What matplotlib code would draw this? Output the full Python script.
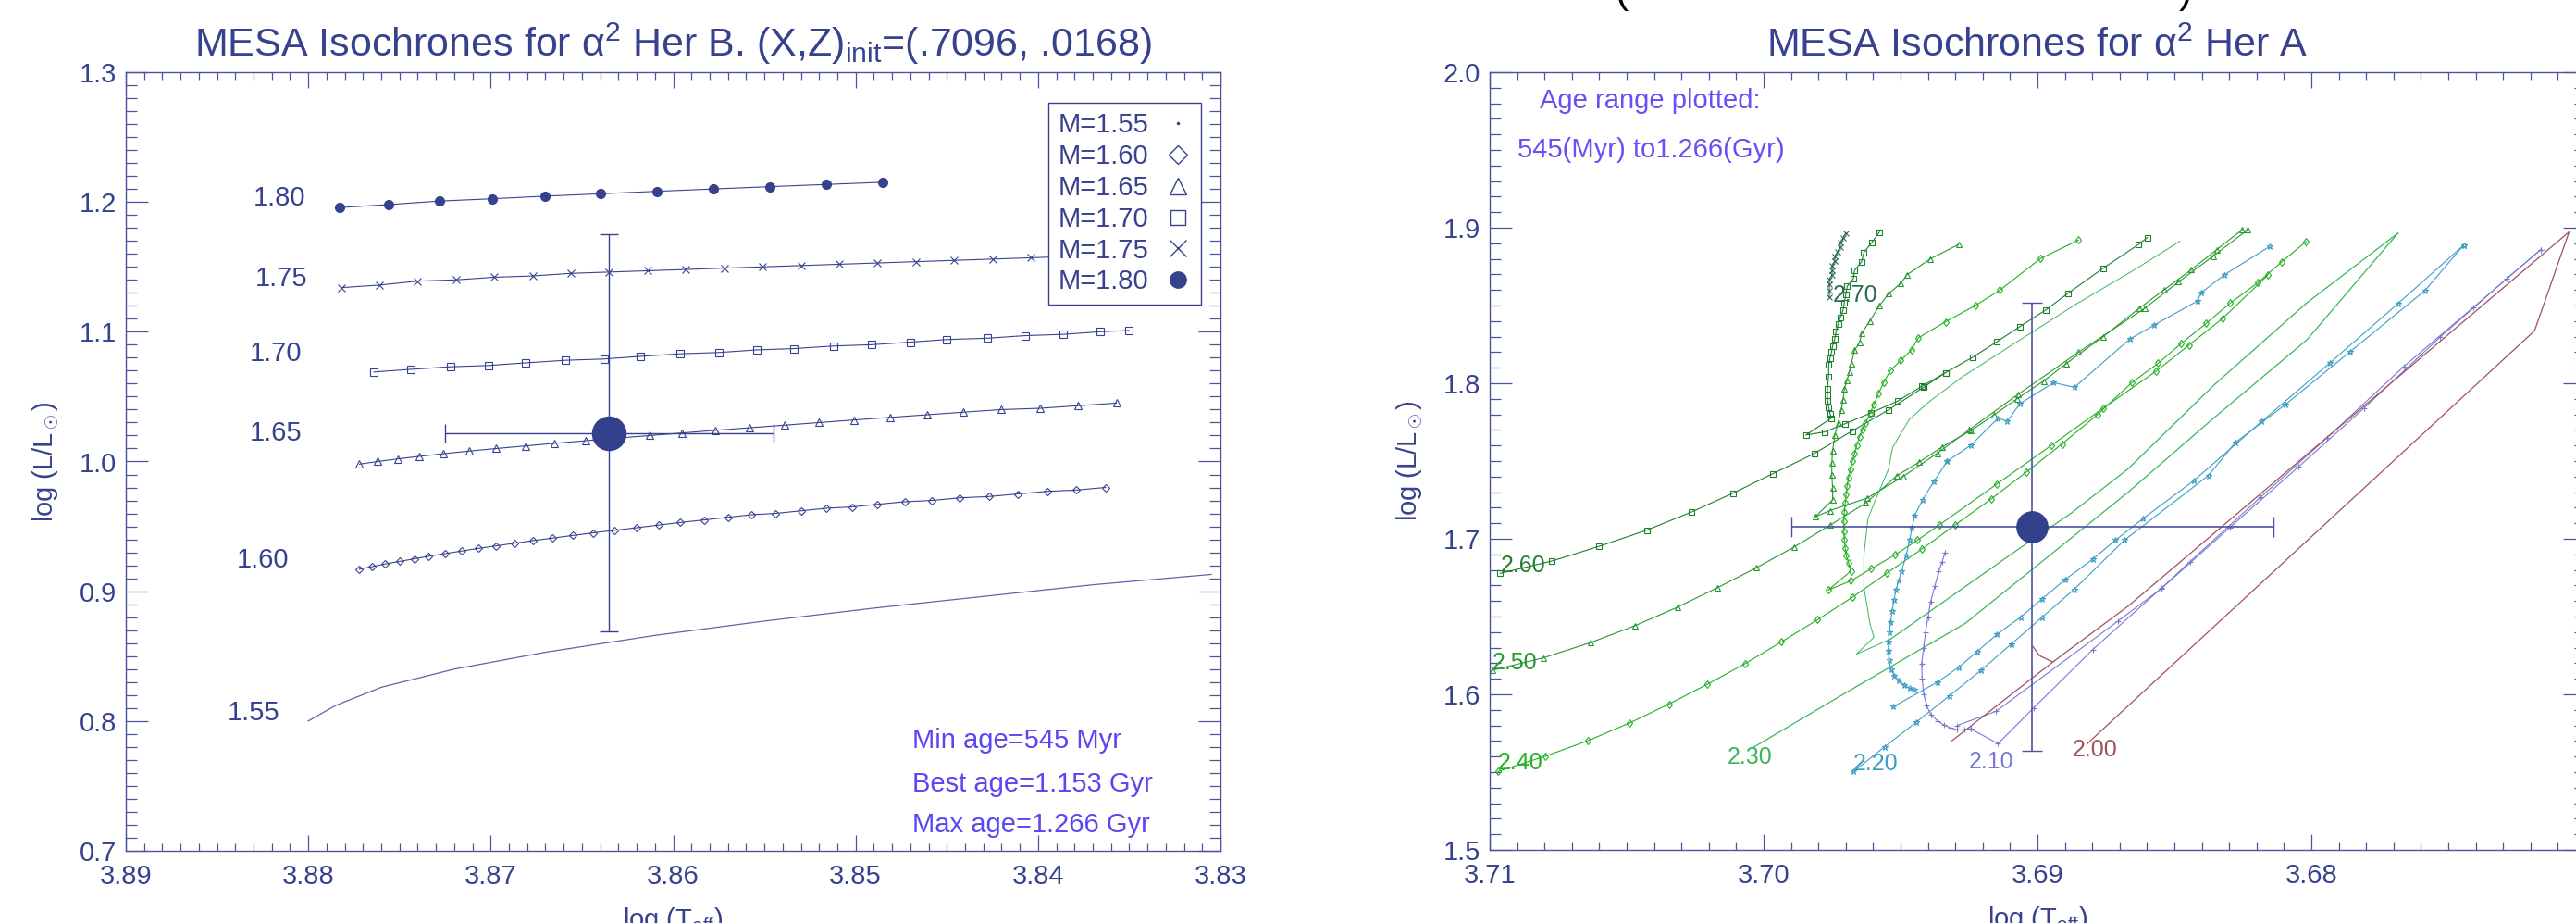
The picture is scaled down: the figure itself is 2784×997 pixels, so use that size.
import matplotlib
matplotlib.use('Agg')
import matplotlib.pyplot as plt
from matplotlib.lines import Line2D
from matplotlib.ticker import MultipleLocator, FuncFormatter

plt.rcParams.update({'font.family': ['Liberation Sans', 'DejaVu Sans'],
                     'mathtext.fontset': 'custom',
                     'mathtext.rm': 'Liberation Sans',
                     'mathtext.it': 'Liberation Sans:italic',
                     'mathtext.bf': 'Liberation Sans:bold'})

NAVY = '#37428E'
SPINE = '#4A549E'
AGE_COL = '#5A46F2'

# ---------------- left panel: alpha2 Her B ----------------
b155_x = [3.8800, 3.8785, 3.8760, 3.8720, 3.8670, 3.8610, 3.8550, 3.8490, 3.8430, 3.8370, 3.8305]
b155_y = [0.800, 0.812, 0.826, 0.840, 0.853, 0.866, 0.877, 0.887, 0.896, 0.905, 0.913]

b160_x = [3.8772, 3.8765, 3.8758, 3.8750, 3.8742, 3.8734, 3.8725, 3.8716, 3.8707, 3.8697,
          3.8687, 3.8677, 3.8666, 3.8655, 3.8644, 3.8632, 3.8620, 3.8608, 3.8596, 3.8583,
          3.8570, 3.8557, 3.8544, 3.8530, 3.8516, 3.8502, 3.8488, 3.8473, 3.8458, 3.8443,
          3.8427, 3.8411, 3.8395, 3.8379, 3.8363]
b160_y = [0.917, 0.919, 0.921, 0.923, 0.925, 0.927, 0.929, 0.931, 0.933, 0.935,
          0.937, 0.939, 0.941, 0.943, 0.945, 0.947, 0.949, 0.951, 0.953, 0.955,
          0.957, 0.959, 0.960, 0.962, 0.964, 0.965, 0.967, 0.969, 0.970, 0.972,
          0.973, 0.975, 0.977, 0.978, 0.980]

b165_x = [3.8772, 3.8762, 3.8751, 3.8739, 3.8726, 3.8712, 3.8697, 3.8681, 3.8665, 3.8648,
          3.8631, 3.8613, 3.8595, 3.8577, 3.8558, 3.8539, 3.8520, 3.8501, 3.8481, 3.8461,
          3.8441, 3.8420, 3.8399, 3.8378, 3.8357]
b165_y = [0.998, 1.000, 1.002, 1.004, 1.006, 1.008, 1.010, 1.012, 1.014, 1.016,
          1.018, 1.020, 1.022, 1.024, 1.026, 1.028, 1.030, 1.032, 1.034, 1.036,
          1.038, 1.040, 1.041, 1.043, 1.045]

b170_x = [3.8764, 3.8744, 3.8722, 3.8701, 3.8681, 3.8659, 3.8638, 3.8618, 3.8596, 3.8575,
          3.8554, 3.8534, 3.8512, 3.8491, 3.8470, 3.8450, 3.8428, 3.8407, 3.8386, 3.8366, 3.8350]
b170_y = [1.069, 1.071, 1.073, 1.074, 1.076, 1.078, 1.079, 1.081, 1.083, 1.084,
          1.086, 1.087, 1.089, 1.090, 1.092, 1.094, 1.095, 1.097, 1.098, 1.100, 1.101]

b175_x = [3.8782, 3.8761, 3.8740, 3.8719, 3.8698, 3.8677, 3.8656, 3.8635, 3.8614, 3.8593,
          3.8572, 3.8551, 3.8530, 3.8509, 3.8488, 3.8467, 3.8446, 3.8425, 3.8404, 3.8383, 3.8362]
b175_y = [1.134, 1.136, 1.139, 1.140, 1.142, 1.143, 1.145, 1.146, 1.147, 1.148,
          1.149, 1.150, 1.151, 1.152, 1.153, 1.154, 1.155, 1.156, 1.157, 1.158, 1.159]

b180_x = [3.8783, 3.8756, 3.8728, 3.8699, 3.8670, 3.8640, 3.8609, 3.8578, 3.8547, 3.8516, 3.8485]
b180_y = [1.1957, 1.1980, 1.2007, 1.2025, 1.2045, 1.2063, 1.2082, 1.2100, 1.2118, 1.2135, 1.2152]

b_masses = ['1.55', '1.60', '1.65', '1.70', '1.75', '1.80']
b_label_x = [3.8830, 3.8825, 3.8818, 3.8818, 3.8815, 3.8816]
b_label_y = [0.806, 0.924, 1.022, 1.083, 1.141, 1.203]
b_markers = ['.', 'D', '^', 's', 'x', 'o']

b_obs_x, b_obs_y = 3.8635, 1.022
b_obs_xerr, b_obs_yerr = 0.0090, 0.153

b_ages = ['Min age=545 Myr', 'Best age=1.153 Gyr', 'Max age=1.266 Gyr']
b_ages_y = [0.779, 0.746, 0.714]

# ---------------- right panel: alpha2 Her A ----------------
a270_x = [3.6970, 3.6971, 3.6972, 3.6972, 3.6973, 3.6974, 3.6974, 3.6975, 3.6975, 3.6975,
          3.6976, 3.6976, 3.6976, 3.6976]
a270_y = [1.8966, 1.8935, 1.8905, 1.8876, 1.8846, 1.8817, 1.8787, 1.8757, 1.8727, 1.8697,
          1.8667, 1.8637, 1.8597, 1.8555]

a260_x = [3.70962, 3.70773, 3.70600, 3.70426, 3.70265, 3.70111, 3.69966, 3.69815, 3.69677,
          3.69544, 3.69416, 3.69336, 3.69235, 3.69149, 3.69064, 3.68971, 3.68888, 3.68760,
          3.68632, 3.68599]
a260_y = [1.6778, 1.6857, 1.6952, 1.7056, 1.7171, 1.7294, 1.7419, 1.7548, 1.7693,
          1.7829, 1.7974, 1.8068, 1.8169, 1.8266, 1.8365, 1.8470, 1.8579, 1.8740,
          1.8891, 1.8937]
a260h_x = [3.69577, 3.69604, 3.69634, 3.69642, 3.69668, 3.69672, 3.69695, 3.69700, 3.69705,
           3.69710, 3.69720, 3.69728, 3.69735, 3.69740, 3.69748, 3.69752, 3.69758, 3.69762,
           3.69763, 3.69767, 3.69767, 3.69766, 3.69762, 3.69758, 3.69752, 3.69846, 3.69778,
           3.69702, 3.69607, 3.69511, 3.69423, 3.69336]
a260h_y = [1.8972, 1.8907, 1.8841, 1.8782, 1.8726, 1.8673, 1.8623, 1.8570, 1.8520,
           1.8470, 1.8425, 1.8381, 1.8335, 1.8288, 1.8240, 1.8200, 1.8160, 1.8120,
           1.8044, 1.7964, 1.7925, 1.7885, 1.7845, 1.7806, 1.7776, 1.7667, 1.7687,
           1.7740, 1.7810, 1.7885, 1.7980, 1.8068]

a250_x = [3.70990, 3.70805, 3.70631, 3.70470, 3.70315, 3.70169, 3.70026, 3.69888, 3.69758,
          3.69627, 3.69514, 3.69431, 3.69348, 3.69242, 3.69159, 3.69076, 3.68978, 3.68895,
          3.68760, 3.68627, 3.68536, 3.68438, 3.68346, 3.68252]
a250_y = [1.6155, 1.6234, 1.6333, 1.6441, 1.6560, 1.6685, 1.6814, 1.6948, 1.7087,
          1.7230, 1.7405, 1.7494, 1.7591, 1.7697, 1.7796, 1.7899, 1.8014, 1.8127,
          1.8300, 1.8484, 1.8603, 1.8731, 1.8859, 1.8988]
a250h_x = [3.69288, 3.69393, 3.69476, 3.69499, 3.69544, 3.69577, 3.69612, 3.69642, 3.69650,
           3.69668, 3.69680, 3.69687, 3.69695, 3.69705, 3.69710, 3.69717, 3.69728, 3.69740,
           3.69748, 3.69751, 3.69751, 3.69748, 3.69748, 3.69812, 3.69758, 3.69622, 3.69491,
           3.69366, 3.69250, 3.69070, 3.68850, 3.68607, 3.68485, 3.68359, 3.68232]
a250h_y = [1.8893, 1.8798, 1.8698, 1.8643, 1.8575, 1.8500, 1.8401, 1.8321, 1.8262,
           1.8212, 1.8123, 1.8073, 1.8020, 1.7964, 1.7895, 1.7825, 1.7746, 1.7667,
           1.7568, 1.7488, 1.7409, 1.7329, 1.7250, 1.7141, 1.7181, 1.7262, 1.7400,
           1.7550, 1.7700, 1.7930, 1.8200, 1.8484, 1.8652, 1.8817, 1.8988]

a240_x = [3.70970, 3.70796, 3.70641, 3.70489, 3.70346, 3.70206, 3.70067, 3.69935, 3.69803,
          3.69675, 3.69551, 3.69423, 3.69299, 3.69170, 3.69040, 3.68910, 3.68780, 3.68655,
          3.68560, 3.68475, 3.68385, 3.68297, 3.68196, 3.68109, 3.68019]
a240_y = [1.5504, 1.5603, 1.5702, 1.5816, 1.5937, 1.6064, 1.6198, 1.6337, 1.6480,
          1.6625, 1.6778, 1.6933, 1.7091, 1.7255, 1.7430, 1.7610, 1.7800, 1.8005,
          1.8128, 1.8256, 1.8384, 1.8515, 1.8646, 1.8780, 1.8911]
a240h_x = [3.68850, 3.68989, 3.69137, 3.69227, 3.69336, 3.69435, 3.69461, 3.69499, 3.69537,
           3.69562, 3.69580, 3.69597, 3.69612, 3.69627, 3.69640, 3.69650, 3.69660, 3.69668,
           3.69676, 3.69683, 3.69690, 3.69695, 3.69699, 3.69702, 3.69705, 3.69707, 3.69707,
           3.69705, 3.69702, 3.69698, 3.69690, 3.69680, 3.69764, 3.69681, 3.69607, 3.69520,
           3.69438, 3.69357, 3.69150, 3.68950, 3.68760, 3.68568, 3.68446, 3.68323, 3.68160]
a240h_y = [1.8921, 1.8802, 1.8599, 1.8500, 1.8395, 1.8292, 1.8212, 1.8147, 1.8083,
           1.8004, 1.7935, 1.7865, 1.7805, 1.7746, 1.7700, 1.7657, 1.7600, 1.7548,
           1.7498, 1.7448, 1.7395, 1.7339, 1.7285, 1.7230, 1.7170, 1.7111, 1.7050,
           1.6992, 1.6940, 1.6893, 1.6845, 1.6794, 1.6671, 1.6730, 1.6808, 1.6897,
           1.6992, 1.7091, 1.7350, 1.7600, 1.7840, 1.8076, 1.8247, 1.8418, 1.8694]

a230a_x = [3.70043, 3.69729, 3.69264, 3.68669, 3.68354, 3.68016, 3.67684]
a230a_y = [1.5653, 1.5980, 1.6456, 1.7300, 1.7780, 1.8280, 1.8965]
a230b_x = [3.69535, 3.69070, 3.68880, 3.68669, 3.68354, 3.68016, 3.67684]
a230b_y = [1.6357, 1.6933, 1.7161, 1.7450, 1.7991, 1.8518, 1.8965]
a230w_x = [3.68480, 3.68655, 3.68858, 3.69061, 3.69272, 3.69393, 3.69469, 3.69529, 3.69544,
           3.69582, 3.69619, 3.69634, 3.69634, 3.69612, 3.69597, 3.69661, 3.69584, 3.69535]
a230w_y = [1.8913, 1.8720, 1.8510, 1.8282, 1.8044, 1.7885, 1.7766, 1.7587, 1.7448,
           1.7290, 1.7131, 1.6893, 1.6694, 1.6456, 1.6367, 1.6258, 1.6318, 1.6357]

a220h_x = [3.69330, 3.69378, 3.69420, 3.69448, 3.69458, 3.69467, 3.69480, 3.69496, 3.69506,
           3.69516, 3.69524, 3.69531, 3.69536, 3.69541, 3.69544, 3.69545, 3.69542, 3.69535,
           3.69522, 3.69506, 3.69488, 3.69467, 3.69448]
a220h_y = [1.7498, 1.7369, 1.7250, 1.7150, 1.7070, 1.6992, 1.6890, 1.6794, 1.6735,
           1.6675, 1.6605, 1.6536, 1.6466, 1.6397, 1.6338, 1.6278, 1.6218, 1.6159,
           1.6120, 1.6089, 1.6062, 1.6040, 1.6030]
a220u_x = [3.69330, 3.69242, 3.69144, 3.69110, 3.69064, 3.68941, 3.68865, 3.68663, 3.68573,
           3.68416, 3.68402, 3.68318, 3.68153]
a220u_y = [1.7498, 1.7603, 1.7776, 1.7756, 1.7869, 1.8004, 1.7974, 1.8284, 1.8375,
           1.8529, 1.8583, 1.8697, 1.8879]
a220a_x = [3.69526, 3.69365, 3.69287, 3.69221, 3.69147, 3.69062, 3.68982, 3.68899, 3.68798,
           3.68715, 3.68614, 3.68430, 3.68181, 3.67931, 3.67684, 3.67444]
a220a_y = [1.5921, 1.6079, 1.6175, 1.6274, 1.6387, 1.6496, 1.6615, 1.6738, 1.6869,
           1.6992, 1.7131, 1.7373, 1.7755, 1.8133, 1.8512, 1.8888]
a220b_x = [3.69671, 3.69558, 3.69442, 3.69322, 3.69206, 3.69095, 3.68983, 3.68866, 3.68682,
           3.68376, 3.68278, 3.68095, 3.67858, 3.67586, 3.67444]
a220b_y = [1.5504, 1.5663, 1.5822, 1.5990, 1.6155, 1.6324, 1.6496, 1.6675, 1.6992,
           1.7407, 1.7618, 1.7863, 1.8204, 1.8595, 1.8888]

a210h_x = [3.69337, 3.69348, 3.69360, 3.69375, 3.69390, 3.69400, 3.69409, 3.69416, 3.69423,
           3.69421, 3.69415, 3.69405, 3.69390, 3.69365, 3.69341, 3.69318, 3.69293, 3.69268, 3.69244]
a210h_y = [1.6913, 1.6854, 1.6794, 1.6695, 1.6595, 1.6496, 1.6397, 1.6298, 1.6198,
           1.6099, 1.6000, 1.5930, 1.5871, 1.5830, 1.5802, 1.5785, 1.5772, 1.5772, 1.5778]
a210a_x = [3.69244, 3.69144, 3.69015, 3.68798, 3.68546, 3.68444, 3.68187, 3.67943, 3.67661,
           3.67408, 3.67162]
a210a_y = [1.5778, 1.5683, 1.5911, 1.6288, 1.6685, 1.6852, 1.7265, 1.7649, 1.8110,
           1.8489, 1.8860]
a210b_x = [3.69293, 3.69151, 3.68705, 3.68547, 3.68297, 3.68046, 3.67808, 3.67529, 3.67286,
           3.67162]
a210b_y = [1.5800, 1.5891, 1.6472, 1.6681, 1.7074, 1.7464, 1.7840, 1.8298, 1.8674,
           1.8860]

a200a_x = [3.69312, 3.68944, 3.68669, 3.67059, 3.67185, 3.68669, 3.68818]
a200a_y = [1.5702, 1.6208, 1.6567, 1.8973, 1.8338, 1.5926, 1.5683]
a200h_x = [3.69017, 3.68992, 3.68944]
a200h_y = [1.6308, 1.6248, 1.6208]

a_ages = ['2.70', '2.60', '2.50', '2.40', '2.30', '2.20', '2.10', '2.00']
a_label_x = [3.69665, 3.7096, 3.7099, 3.7097, 3.7005, 3.6959, 3.6917, 3.6879]
a_label_y = [1.8566, 1.6829, 1.6204, 1.5560, 1.5593, 1.5554, 1.5564, 1.5643]
a_label_ha = ['center', 'left', 'left', 'left', 'center', 'center', 'center', 'center']
a_colors = ['#2C6A4C', '#1E7F2E', '#27992F', '#23B023', '#3BB65A', '#3D9DC4', '#7A78D0', '#A0505E']

a_obs_x, a_obs_y = 3.6902, 1.7075
a_obs_xerr, a_obs_yerr = 0.0088, 0.144

# ---------------- figure ----------------
W, H = 2784, 997
fig = plt.figure(figsize=(W / 100, H / 100), dpi=100, facecolor='white')
ax1 = fig.add_axes([136 / W, (H - 919) / H, (1319 - 136) / W, (919 - 78) / H])
ax2 = fig.add_axes([1610 / W, (H - 918) / H, (2794 - 1610) / W, (918 - 78) / H])


def style_axes(ax):
    for s in ax.spines.values():
        s.set_color(SPINE)
        s.set_linewidth(1.0)
    ax.tick_params(which='both', direction='in', top=True, right=True,
                   colors=SPINE, labelcolor=NAVY, labelsize=21, width=0.9)
    ax.tick_params(axis='y', which='major', length=17, pad=7)
    ax.tick_params(axis='y', which='minor', length=8.5)
    ax.tick_params(axis='x', which='major', length=12, pad=10)
    ax.tick_params(axis='x', which='minor', length=6)
    ax.set_xlabel('log (T$_{\\rm eff}$)', fontsize=21, color=NAVY, labelpad=12)
    ax.set_ylabel('log (L/L$_\\odot$)', fontsize=21, color=NAVY, labelpad=14)


style_axes(ax1)
ax1.set_xlim(3.89, 3.83)
ax1.set_ylim(0.7, 1.3)
ax1.xaxis.set_major_locator(MultipleLocator(0.01))
ax1.xaxis.set_minor_locator(MultipleLocator(0.001))
ax1.yaxis.set_major_locator(MultipleLocator(0.1))
ax1.yaxis.set_minor_locator(MultipleLocator(0.01))
ax1.xaxis.set_major_formatter(FuncFormatter(lambda v, p: '%.2f' % v))
ax1.yaxis.set_major_formatter(FuncFormatter(lambda v, p: '%.1f' % v))

ax1.plot(b155_x, b155_y, color='#5C64AC', lw=0.9)
ax1.plot(b160_x, b160_y, color=NAVY, lw=0.8, marker='D', ms=4.5, mfc='none', mew=0.8)
ax1.plot(b165_x, b165_y, color=NAVY, lw=0.8, marker='^', ms=6, mfc='none', mew=0.8)
ax1.plot(b170_x, b170_y, color=NAVY, lw=0.8, marker='s', ms=5.5, mfc='none', mew=0.8)
ax1.plot(b175_x, b175_y, color=NAVY, lw=0.8, marker='x', ms=6, mew=0.8)
ax1.plot(b180_x, b180_y, color=NAVY, lw=0.8, marker='o', ms=7)

for m, lx, ly in zip(b_masses, b_label_x, b_label_y):
    ax1.text(lx, ly, m, fontsize=21, color=NAVY, ha='center', va='center')

ax1.errorbar(b_obs_x, b_obs_y, xerr=b_obs_xerr, yerr=b_obs_yerr, fmt='o', ms=26,
             color='#33418C', ecolor=NAVY, elinewidth=1.0, capsize=7, capthick=1.0)

for t, ty in zip(b_ages, b_ages_y):
    ax1.text(3.8469, ty, t, fontsize=21, color=AGE_COL, ha='left', va='baseline')

handles = [Line2D([], [], ls='none', marker=mk, color=NAVY,
                  mfc=(NAVY if mk in ('o', '.') else 'none'), mew=1.0,
                  ms={'.': 3, 'D': 10, '^': 13, 's': 12, 'x': 13, 'o': 12.5}[mk])
           for mk in b_markers]
leg = ax1.legend(handles, ['M=' + m for m in b_masses], loc='upper right',
                 bbox_to_anchor=(0.9823, 0.9607), borderaxespad=0, markerfirst=False,
                 fontsize=21, handlelength=1.0, handletextpad=0.6, labelspacing=0.2,
                 borderpad=0.35, fancybox=False, framealpha=1, edgecolor=NAVY,
                 labelcolor=NAVY)
leg.get_frame().set_linewidth(1.0)

ax1.set_title('MESA Isochrones for α$^2$ Her B. (X,Z)$_{\\rm init}$=(.7096, .0168)',
              fontsize=31, color=NAVY, pad=12)

# right panel
style_axes(ax2)
ax2.set_xlim(3.71, 3.67)
ax2.set_ylim(1.5, 2.0)
ax2.xaxis.set_major_locator(MultipleLocator(0.01))
ax2.xaxis.set_minor_locator(MultipleLocator(0.001))
ax2.yaxis.set_major_locator(MultipleLocator(0.1))
ax2.yaxis.set_minor_locator(MultipleLocator(0.01))
ax2.xaxis.set_major_formatter(FuncFormatter(lambda v, p: '' if v < 3.675 else '%.2f' % v))
ax2.yaxis.set_major_formatter(FuncFormatter(lambda v, p: '%.1f' % v))

kw = dict(lw=0.8, mfc='none', mew=0.8)
c = a_colors
ax2.plot(a270_x, a270_y, color=c[0], marker='x', ms=4, **kw)
ax2.plot(a260_x, a260_y, color=c[1], marker='s', ms=4.5, **kw)
ax2.plot(a260h_x, a260h_y, color=c[1], marker='s', ms=4.5, **kw)
ax2.plot(a250_x, a250_y, color=c[2], marker='^', ms=4.5, **kw)
ax2.plot(a250h_x, a250h_y, color=c[2], marker='^', ms=4.5, **kw)
ax2.plot(a240_x, a240_y, color=c[3], marker='d', ms=4.5, **kw)
ax2.plot(a240h_x, a240h_y, color=c[3], marker='d', ms=4.5, **kw)
ax2.plot(a230a_x, a230a_y, color=c[4], lw=0.9)
ax2.plot(a230b_x, a230b_y, color=c[4], lw=0.9)
ax2.plot(a230w_x, a230w_y, color=c[4], lw=0.7)
ax2.plot(a220h_x, a220h_y, color=c[5], marker='*', ms=4.5, **kw)
ax2.plot(a220u_x, a220u_y, color=c[5], marker='*', ms=4.5, **kw)
ax2.plot(a220a_x, a220a_y, color=c[5], marker='*', ms=4.5, **kw)
ax2.plot(a220b_x, a220b_y, color=c[5], marker='*', ms=4.5, **kw)
ax2.plot(a210h_x, a210h_y, color=c[6], marker='+', ms=4.5, **kw)
ax2.plot(a210a_x, a210a_y, color=c[6], marker='+', ms=4.5, **kw)
ax2.plot(a210b_x, a210b_y, color=c[6], marker='+', ms=4.5, **kw)
ax2.plot(a200a_x, a200a_y, color=c[7], lw=0.9)
ax2.plot(a200h_x, a200h_y, color=c[7], lw=0.9)

for t, lx, ly, ha, col in zip(a_ages, a_label_x, a_label_y, a_label_ha, a_colors):
    ax2.text(lx, ly, t, fontsize=18, color=col, ha=ha, va='center')

ax2.errorbar(a_obs_x, a_obs_y, xerr=a_obs_xerr, yerr=a_obs_yerr, fmt='o', ms=24,
             color='#33418C', ecolor='#4A54A0', elinewidth=1.2, capsize=8, capthick=1.0)

ax2.text(0.046, 0.963, 'Age range plotted:', transform=ax2.transAxes, fontsize=21,
         color='#6B4EF5', ha='left', va='center')
ax2.text(0.025, 0.900, '545(Myr) to1.266(Gyr)', transform=ax2.transAxes, fontsize=21,
         color='#6B4EF5', ha='left', va='center')

ax2.set_title('MESA Isochrones for α$^2$ Her A', fontsize=31, color=NAVY, pad=12)

# bits of a caption cut off at the top edge
fig.text(1753 / W, 1 - 3 / H, '(', fontsize=31, color='black', ha='center', va='baseline')
fig.text(2362 / W, 1 - 3 / H, ')', fontsize=31, color='black', ha='center', va='baseline')

fig.savefig('out.png', dpi=100, facecolor='white')
